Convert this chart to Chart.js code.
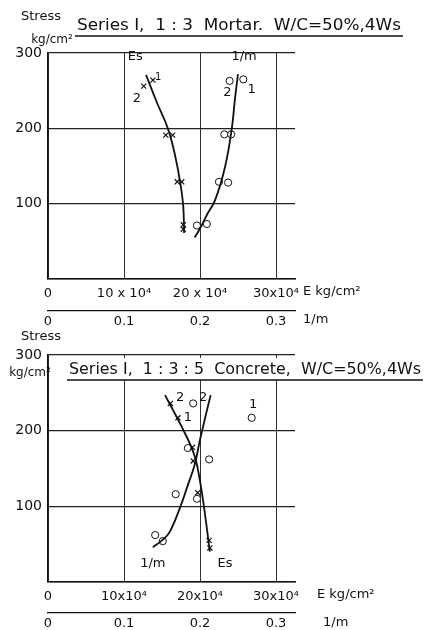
<!DOCTYPE html>
<html>
<head>
<meta charset="utf-8">
<script src="https://cdn.jsdelivr.net/npm/chart.js@4.4.0/dist/chart.umd.min.js"></script>
<style>
  html, body { margin: 0; padding: 0; background: #fff; }
  #wrap { position: relative; width: 426px; height: 630px; overflow: hidden; }
  canvas { position: absolute; left: 0; }
  #mortar { top: 0; }
  #concrete { top: 320px; }
</style>
</head>
<body>
<div id="wrap">
  <canvas id="mortar" width="426" height="330"></canvas>
  <canvas id="concrete" width="426" height="310"></canvas>
</div>
<script>
// ticks
const stressTicks = [0, 100, 200, 300];
const stressTickLabels = ['', '100', '200', '300'];
const eTicks = [0, 10, 20, 30];
const eTickLabelsMortar = ['0', '10 x 10⁴', '20 x 10⁴', '30x10⁴'];
const eTickLabelsConcrete = ['0', '10x10⁴', '20x10⁴', '30x10⁴'];
const mTicks = [0, 0.1, 0.2, 0.3];
const mTickLabels = ['0', '0.1', '0.2', '0.3'];

// Series I, 1:3 Mortar  (E in 10^4 kg/cm2, stress in kg/cm2)
const mortarEsE = [13.8, 12.6, 15.5, 16.4, 17.0, 17.6, 17.8, 17.8];
const mortarEsStress = [264, 256, 191, 191, 129, 129, 72, 66];
const mortarEsCurveE = [12.9, 14.3, 15.8, 16.7, 17.4, 17.8, 17.9];
const mortarEsCurveStress = [271, 235, 199, 165, 128, 96, 61];
const mortarM = [0.239, 0.257, 0.232, 0.241, 0.225, 0.237, 0.196, 0.209];
const mortarMStress = [263, 265, 192, 192, 129, 128, 71, 73];
const mortarMCurve = [0.193, 0.200, 0.209, 0.220, 0.233, 0.242, 0.246, 0.250];
const mortarMCurveStress = [55, 67, 85, 105, 149, 201, 239, 272];

// Series I, 1:3:5 Concrete
const concreteEsE = [16.1, 17.1, 19.0, 19.1, 19.7, 21.2, 21.3];
const concreteEsStress = [236, 217, 178, 160, 118, 55, 45];
const concreteEsCurveE = [15.4, 17.5, 19.0, 19.6, 20.4, 21.3];
const concreteEsCurveStress = [247, 207, 175, 155, 108, 40];
const concreteM = [0.191, 0.268, 0.184, 0.212, 0.168, 0.196, 0.141, 0.151];
const concreteMStress = [236, 217, 177, 162, 116, 110, 62, 54];
const concreteMCurve = [0.138, 0.150, 0.160, 0.174, 0.184, 0.193, 0.200, 0.207, 0.214];
const concreteMCurveStress = [46, 55, 66, 99, 128, 155, 188, 218, 247];

const ink = '#111';
const pts = (xs, ys) => xs.map((x, i) => ({ x: x, y: ys[i] }));

function curve(xs, ys, axis) {
  return { type: 'line', data: pts(xs, ys), xAxisID: axis, borderColor: ink, borderWidth: 1.8,
    pointRadius: 0, tension: 0.4, fill: false };
}
function marks(xs, ys, axis, style) {
  return { type: 'line', data: pts(xs, ys), xAxisID: axis, showLine: false, pointStyle: style,
    pointRadius: style === 'circle' ? 3.6 : 3.6, borderWidth: style === 'circle' ? 1 : 1.2,
    borderColor: ink, backgroundColor: style === 'circle' ? '#fff' : ink };
}

// texts: title, axis captions, curve labels (kept in a closure, not in chart options)
function notesPlugin(o) {
  return {
    id: 'notes',
    afterDraw(chart) {
      const ctx = chart.ctx;
      ctx.save();
      ctx.fillStyle = ink;
      ctx.strokeStyle = ink;
      const t = o.title;
      if (t.bg) { ctx.fillStyle = '#fff'; ctx.fillRect(t.x0, t.y - 12, t.x1 - t.x0, 22); ctx.fillStyle = ink; }
      ctx.font = '15px "DejaVu Sans"';
      ctx.textBaseline = 'middle';
      ctx.textAlign = 'left';
      const w = ctx.measureText(t.text).width;
      ctx.save();
      ctx.translate(t.x0 + 2, t.y);
      ctx.scale((t.x1 - t.x0 - 4) / w, 1);
      ctx.fillText(t.text, 0, 0);
      ctx.restore();
      ctx.lineWidth = 1.3;
      ctx.beginPath(); ctx.moveTo(t.x0, t.line); ctx.lineTo(t.x1, t.line); ctx.stroke();

      o.items.forEach(n => {
        let x = n.px, y = n.py;
        if (n.at) {
          x = chart.scales[n.axis || 'x'].getPixelForValue(n.at[0]);
          y = chart.scales.y.getPixelForValue(n.at[1]);
        }
        ctx.font = n.font || '13px "DejaVu Sans"';
        ctx.textAlign = n.align || 'center';
        ctx.textBaseline = 'middle';
        ctx.fillText(n.text, x, y);
      });
      ctx.restore();
    }
  };
}

function makeChart(id, sets, eLabels, g, notesOpts) {
  return new Chart(document.getElementById(id), {
    data: { datasets: sets },
    plugins: [notesPlugin(notesOpts)],
    options: {
      responsive: false,
      animation: false,
      layout: { padding: { top: g.top, right: 131, left: 0, bottom: 0 } },
      plugins: { legend: { display: false }, tooltip: { enabled: false } },
      scales: {
        x: {
          type: 'linear', position: 'bottom', min: 0, max: 32.5, weight: 0,
          afterBuildTicks: s => { s.ticks = eTicks.map(v => ({ value: v })); },
          afterFit: s => { s.height = g.eHeight; },
          ticks: { autoSkip: false, maxRotation: 0, padding: g.ePad, color: ink,
            font: { family: 'DejaVu Sans', size: 13 },
            callback: v => eLabels[eTicks.indexOf(v)] },
          grid: { color: '#333', lineWidth: 1, drawTicks: false },
          border: { color: ink, width: 1.5 }
        },
        x2: {
          type: 'linear', position: 'bottom', min: 0, max: 0.325, weight: 1,
          afterBuildTicks: s => { s.ticks = mTicks.map(v => ({ value: v })); },
          afterFit: s => { s.height = g.mHeight; },
          ticks: { autoSkip: false, maxRotation: 0, padding: g.mPad, color: ink,
            font: { family: 'DejaVu Sans', size: 13 },
            callback: v => mTickLabels[mTicks.indexOf(v)] },
          grid: { display: false, drawTicks: false },
          border: { color: ink, width: 1.3 }
        },
        y: {
          type: 'linear', position: 'left', min: 0, max: 300,
          afterBuildTicks: s => { s.ticks = stressTicks.map(v => ({ value: v })); },
          afterFit: s => { s.width = 48; },
          ticks: { padding: 6, color: ink, font: { family: 'DejaVu Sans', size: 14 },
            callback: v => stressTickLabels[stressTicks.indexOf(v)] },
          grid: { color: '#222', lineWidth: 1.3, drawTicks: false },
          border: { color: ink, width: 1.5 }
        }
      }
    }
  });
}

makeChart('mortar', [
  curve(mortarEsCurveE, mortarEsCurveStress, 'x'),
  marks(mortarEsE, mortarEsStress, 'x', 'crossRot'),
  curve(mortarMCurve, mortarMCurveStress, 'x2'),
  marks(mortarM, mortarMStress, 'x2', 'circle')
], eTickLabelsMortar, { top: 53, eHeight: 32, ePad: 7, mHeight: 19, mPad: 3 }, {
  title: { text: 'Series I,  1 : 3  Mortar.  W/C=50%,4Ws', x0: 75, x1: 403, y: 26, line: 36 },
  items: [
    { text: 'Stress', px: 41, py: 17, font: '13px "DejaVu Sans"' },
    { text: 'kg/cm²', px: 52, py: 40, font: '12px "DejaVu Sans"' },
    { text: 'E kg/cm²', px: 303, py: 292, align: 'left' },
    { text: '1/m', px: 303, py: 320, align: 'left' },
    { text: 'Es', at: [10.5, 295], align: 'left' },
    { text: '1/m', at: [0.258, 295], axis: 'x2' },
    { text: '2', at: [11.7, 240] },
    { text: '1', at: [14.5, 268], font: '10px "DejaVu Sans"' },
    { text: '2', at: [0.236, 247], axis: 'x2' },
    { text: '1', at: [0.268, 251], axis: 'x2' }
  ]
});

makeChart('concrete', [
  curve(concreteEsCurveE, concreteEsCurveStress, 'x'),
  marks(concreteEsE, concreteEsStress, 'x', 'crossRot'),
  curve(concreteMCurve, concreteMCurveStress, 'x2'),
  marks(concreteM, concreteMStress, 'x2', 'circle')
], eTickLabelsConcrete, { top: 35, eHeight: 31, ePad: 7, mHeight: 17, mPad: 3 }, {
  title: { text: 'Series I,  1 : 3 : 5  Concrete,  W/C=50%,4Ws', x0: 67, x1: 423, y: 50, line: 60, bg: true },
  items: [
    { text: 'Stress', px: 41, py: 17, font: '13px "DejaVu Sans"' },
    { text: 'kg/cm²', px: 30, py: 53, font: '12px "DejaVu Sans"' },
    { text: 'E kg/cm²', px: 317, py: 275, align: 'left' },
    { text: '1/m', px: 323, py: 303, align: 'left' },
    { text: '2', at: [17.4, 244] },
    { text: '1', at: [18.4, 217] },
    { text: '2', at: [0.204, 244], axis: 'x2' },
    { text: '1', at: [0.270, 234], axis: 'x2' },
    { text: '1/m', at: [0.138, 24], axis: 'x2' },
    { text: 'Es', at: [23.3, 24] }
  ]
});
</script>
</body>
</html>
